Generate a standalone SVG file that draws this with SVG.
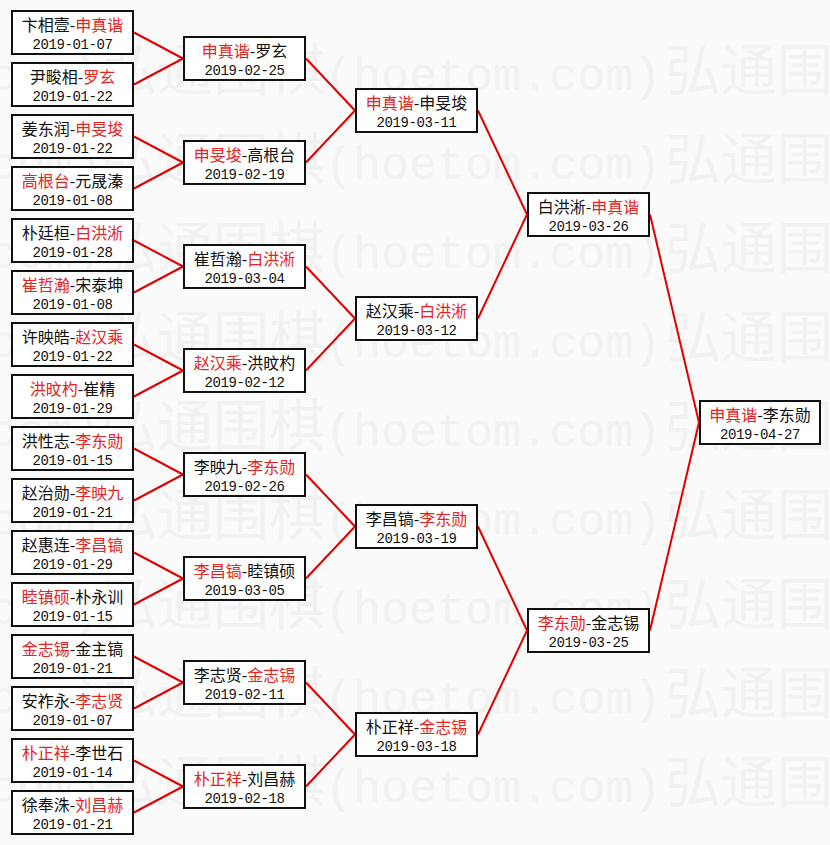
<svg xmlns="http://www.w3.org/2000/svg" width="830" height="845" viewBox="0 0 830 845">
<style>
.bg{fill:#fafafa}
.wm{font-size:56px;fill:#f1f1f1}
.wmc{font-family:"Noto Sans CJK SC",sans-serif}
.wml{font-family:"Liberation Mono",monospace;font-size:46.7px}
.box{fill:#fff;stroke:#111;stroke-width:2}
.t1{font-family:"Noto Sans CJK SC",sans-serif;font-size:16px;fill:#111;text-anchor:middle}
.t2{font-family:"Liberation Mono",monospace;font-size:14px;letter-spacing:-0.4px;fill:#111;text-anchor:middle}
.r{fill:#e62323}
.c line{stroke:#e00000;stroke-width:2}
</style>
<defs>
<g id="wmrow">
<text class="wm" y="0"><tspan class="wml" x="-235">(hoetom.com)</tspan><tspan class="wmc" x="101">弘通围棋</tspan><tspan class="wml" x="325">(hoetom.com)</tspan><tspan class="wmc" x="665">弘通围棋</tspan></text>
</g>
</defs>
<rect class="bg" x="0" y="0" width="830" height="845"/>
<g id="watermark">
<use href="#wmrow" y="90"/>
<use href="#wmrow" y="179"/>
<use href="#wmrow" y="268"/>
<use href="#wmrow" y="357"/>
<use href="#wmrow" y="446"/>
<use href="#wmrow" y="535"/>
<use href="#wmrow" y="624"/>
<use href="#wmrow" y="713"/>
<use href="#wmrow" y="802"/>
</g>
<g class="c" id="connectors">
<line x1="134" y1="32.5" x2="183" y2="58.5"/>
<line x1="134" y1="84.5" x2="183" y2="58.5"/>
<line x1="134" y1="136.5" x2="183" y2="162.5"/>
<line x1="134" y1="188.5" x2="183" y2="162.5"/>
<line x1="134" y1="240.5" x2="183" y2="266.5"/>
<line x1="134" y1="292.5" x2="183" y2="266.5"/>
<line x1="134" y1="344.5" x2="183" y2="370.5"/>
<line x1="134" y1="396.5" x2="183" y2="370.5"/>
<line x1="134" y1="448.5" x2="183" y2="474.5"/>
<line x1="134" y1="500.5" x2="183" y2="474.5"/>
<line x1="134" y1="552.5" x2="183" y2="578.5"/>
<line x1="134" y1="604.5" x2="183" y2="578.5"/>
<line x1="134" y1="656.5" x2="183" y2="682.5"/>
<line x1="134" y1="708.5" x2="183" y2="682.5"/>
<line x1="134" y1="760.5" x2="183" y2="786.5"/>
<line x1="134" y1="812.5" x2="183" y2="786.5"/>
<line x1="306" y1="58.5" x2="355" y2="110.5"/>
<line x1="306" y1="162.5" x2="355" y2="110.5"/>
<line x1="306" y1="266.5" x2="355" y2="318.5"/>
<line x1="306" y1="370.5" x2="355" y2="318.5"/>
<line x1="306" y1="474.5" x2="355" y2="526.5"/>
<line x1="306" y1="578.5" x2="355" y2="526.5"/>
<line x1="306" y1="682.5" x2="355" y2="734.5"/>
<line x1="306" y1="786.5" x2="355" y2="734.5"/>
<line x1="478" y1="110.5" x2="527" y2="214.5"/>
<line x1="478" y1="318.5" x2="527" y2="214.5"/>
<line x1="478" y1="526.5" x2="527" y2="630.5"/>
<line x1="478" y1="734.5" x2="527" y2="630.5"/>
<line x1="650" y1="214.5" x2="699" y2="422.5"/>
<line x1="650" y1="630.5" x2="699" y2="422.5"/>
</g>
<!-- column 1 -->
<g id="r1-1"><rect class="box" x="12" y="11" width="121" height="43"/><text class="t1" x="72.5" y="31">卞相壹-<tspan class="r">申真谐</tspan></text><text class="t2" x="72.5" y="49">2019-01-07</text></g>
<g id="r1-2"><rect class="box" x="12" y="63" width="121" height="43"/><text class="t1" x="72.5" y="83">尹畯相-<tspan class="r">罗玄</tspan></text><text class="t2" x="72.5" y="101">2019-01-22</text></g>
<g id="r1-3"><rect class="box" x="12" y="115" width="121" height="43"/><text class="t1" x="72.5" y="135">姜东润-<tspan class="r">申旻埈</tspan></text><text class="t2" x="72.5" y="153">2019-01-22</text></g>
<g id="r1-4"><rect class="box" x="12" y="167" width="121" height="43"/><text class="t1" x="72.5" y="187"><tspan class="r">高根台</tspan>-元晟溱</text><text class="t2" x="72.5" y="205">2019-01-08</text></g>
<g id="r1-5"><rect class="box" x="12" y="219" width="121" height="43"/><text class="t1" x="72.5" y="239">朴廷桓-<tspan class="r">白洪淅</tspan></text><text class="t2" x="72.5" y="257">2019-01-28</text></g>
<g id="r1-6"><rect class="box" x="12" y="271" width="121" height="43"/><text class="t1" x="72.5" y="291"><tspan class="r">崔哲瀚</tspan>-宋泰坤</text><text class="t2" x="72.5" y="309">2019-01-08</text></g>
<g id="r1-7"><rect class="box" x="12" y="323" width="121" height="43"/><text class="t1" x="72.5" y="343">许映皓-<tspan class="r">赵汉乘</tspan></text><text class="t2" x="72.5" y="361">2019-01-22</text></g>
<g id="r1-8"><rect class="box" x="12" y="375" width="121" height="43"/><text class="t1" x="72.5" y="395"><tspan class="r">洪旼杓</tspan>-崔精</text><text class="t2" x="72.5" y="413">2019-01-29</text></g>
<g id="r1-9"><rect class="box" x="12" y="427" width="121" height="43"/><text class="t1" x="72.5" y="447">洪性志-<tspan class="r">李东勋</tspan></text><text class="t2" x="72.5" y="465">2019-01-15</text></g>
<g id="r1-10"><rect class="box" x="12" y="479" width="121" height="43"/><text class="t1" x="72.5" y="499">赵治勋-<tspan class="r">李映九</tspan></text><text class="t2" x="72.5" y="517">2019-01-21</text></g>
<g id="r1-11"><rect class="box" x="12" y="531" width="121" height="43"/><text class="t1" x="72.5" y="551">赵惠连-<tspan class="r">李昌镐</tspan></text><text class="t2" x="72.5" y="569">2019-01-29</text></g>
<g id="r1-12"><rect class="box" x="12" y="583" width="121" height="43"/><text class="t1" x="72.5" y="603"><tspan class="r">睦镇硕</tspan>-朴永训</text><text class="t2" x="72.5" y="621">2019-01-15</text></g>
<g id="r1-13"><rect class="box" x="12" y="635" width="121" height="43"/><text class="t1" x="72.5" y="655"><tspan class="r">金志锡</tspan>-金主镐</text><text class="t2" x="72.5" y="673">2019-01-21</text></g>
<g id="r1-14"><rect class="box" x="12" y="687" width="121" height="43"/><text class="t1" x="72.5" y="707">安祚永-<tspan class="r">李志贤</tspan></text><text class="t2" x="72.5" y="725">2019-01-07</text></g>
<g id="r1-15"><rect class="box" x="12" y="739" width="121" height="43"/><text class="t1" x="72.5" y="759"><tspan class="r">朴正祥</tspan>-李世石</text><text class="t2" x="72.5" y="777">2019-01-14</text></g>
<g id="r1-16"><rect class="box" x="12" y="791" width="121" height="43"/><text class="t1" x="72.5" y="811">徐奉洙-<tspan class="r">刘昌赫</tspan></text><text class="t2" x="72.5" y="829">2019-01-21</text></g>
<!-- column 2 -->
<g id="r2-1"><rect class="box" x="184" y="37" width="121" height="43"/><text class="t1" x="244.5" y="57"><tspan class="r">申真谐</tspan>-罗玄</text><text class="t2" x="244.5" y="75">2019-02-25</text></g>
<g id="r2-2"><rect class="box" x="184" y="141" width="121" height="43"/><text class="t1" x="244.5" y="161"><tspan class="r">申旻埈</tspan>-高根台</text><text class="t2" x="244.5" y="179">2019-02-19</text></g>
<g id="r2-3"><rect class="box" x="184" y="245" width="121" height="43"/><text class="t1" x="244.5" y="265">崔哲瀚-<tspan class="r">白洪淅</tspan></text><text class="t2" x="244.5" y="283">2019-03-04</text></g>
<g id="r2-4"><rect class="box" x="184" y="349" width="121" height="43"/><text class="t1" x="244.5" y="369"><tspan class="r">赵汉乘</tspan>-洪旼杓</text><text class="t2" x="244.5" y="387">2019-02-12</text></g>
<g id="r2-5"><rect class="box" x="184" y="453" width="121" height="43"/><text class="t1" x="244.5" y="473">李映九-<tspan class="r">李东勋</tspan></text><text class="t2" x="244.5" y="491">2019-02-26</text></g>
<g id="r2-6"><rect class="box" x="184" y="557" width="121" height="43"/><text class="t1" x="244.5" y="577"><tspan class="r">李昌镐</tspan>-睦镇硕</text><text class="t2" x="244.5" y="595">2019-03-05</text></g>
<g id="r2-7"><rect class="box" x="184" y="661" width="121" height="43"/><text class="t1" x="244.5" y="681">李志贤-<tspan class="r">金志锡</tspan></text><text class="t2" x="244.5" y="699">2019-02-11</text></g>
<g id="r2-8"><rect class="box" x="184" y="765" width="121" height="43"/><text class="t1" x="244.5" y="785"><tspan class="r">朴正祥</tspan>-刘昌赫</text><text class="t2" x="244.5" y="803">2019-02-18</text></g>
<!-- column 3 -->
<g id="r3-1"><rect class="box" x="356" y="89" width="121" height="43"/><text class="t1" x="416.5" y="109"><tspan class="r">申真谐</tspan>-申旻埈</text><text class="t2" x="416.5" y="127">2019-03-11</text></g>
<g id="r3-2"><rect class="box" x="356" y="297" width="121" height="43"/><text class="t1" x="416.5" y="317">赵汉乘-<tspan class="r">白洪淅</tspan></text><text class="t2" x="416.5" y="335">2019-03-12</text></g>
<g id="r3-3"><rect class="box" x="356" y="505" width="121" height="43"/><text class="t1" x="416.5" y="525">李昌镐-<tspan class="r">李东勋</tspan></text><text class="t2" x="416.5" y="543">2019-03-19</text></g>
<g id="r3-4"><rect class="box" x="356" y="713" width="121" height="43"/><text class="t1" x="416.5" y="733">朴正祥-<tspan class="r">金志锡</tspan></text><text class="t2" x="416.5" y="751">2019-03-18</text></g>
<!-- column 4 -->
<g id="r4-1"><rect class="box" x="528" y="193" width="121" height="43"/><text class="t1" x="588.5" y="213">白洪淅-<tspan class="r">申真谐</tspan></text><text class="t2" x="588.5" y="231">2019-03-26</text></g>
<g id="r4-2"><rect class="box" x="528" y="609" width="121" height="43"/><text class="t1" x="588.5" y="629"><tspan class="r">李东勋</tspan>-金志锡</text><text class="t2" x="588.5" y="647">2019-03-25</text></g>
<!-- final -->
<g id="r5-1"><rect class="box" x="700" y="401" width="120" height="43"/><text class="t1" x="760" y="421"><tspan class="r">申真谐</tspan>-李东勋</text><text class="t2" x="760" y="439">2019-04-27</text></g>
</svg>
